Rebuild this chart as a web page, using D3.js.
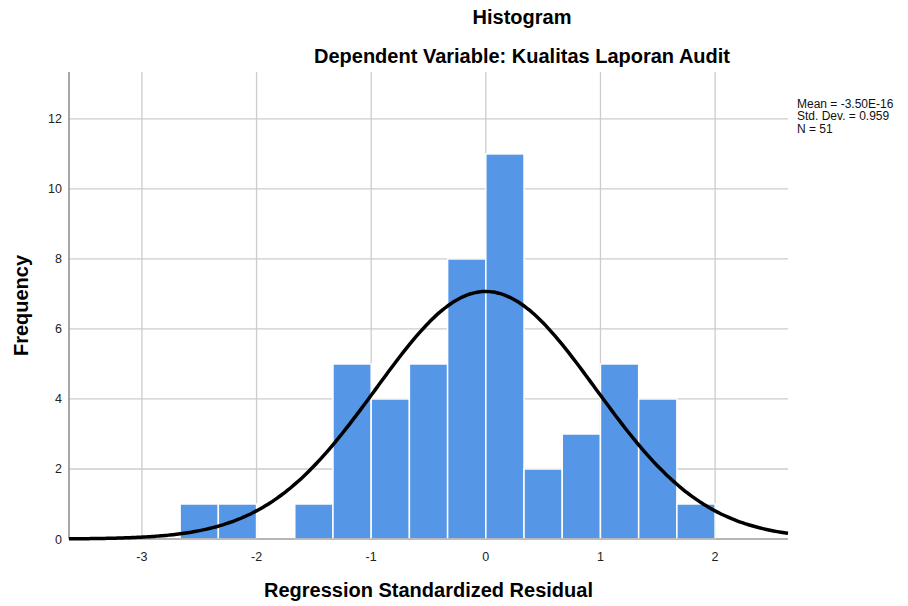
<!DOCTYPE html>
<html>
<head>
<meta charset="utf-8">
<script src="https://cdn.jsdelivr.net/npm/d3@7"></script>
<style>
body { margin: 0; background: #fff; font-family: "Liberation Sans", Arial, sans-serif; }
</style>
</head>
<body>
<div id="histogram"></div>
<script>
// bin edges (standardized residual), count per bin
var binStart = [-2.6667, -2.3333, -2, -1.6667, -1.3333, -1, -0.6667, -0.3333, 0, 0.3333, 0.6667, 1, 1.3333, 1.6667];
var binCount = [1, 1, 0, 1, 5, 4, 5, 8, 11, 2, 3, 5, 4, 1];
var binWidth = 1 / 3;
var xTicks = [-3, -2, -1, 0, 1, 2];
var yTicks = [0, 2, 4, 6, 8, 10, 12];
var stats = ["Mean = -3.50E-16", "Std. Dev. = 0.959", "N = 51"];
var mean = -3.50e-16, sd = 0.959, n = 51;

var W = 908, H = 606;
var margin = { top: 72, right: 120, bottom: 67, left: 69 },
    width = W - margin.left - margin.right,
    height = H - margin.top - margin.bottom;

var svg = d3.select("#histogram")
    .append("svg")
    .attr("width", W)
    .attr("height", H);

var g = svg.append("g")
    .attr("transform", "translate(" + margin.left + "," + margin.top + ")");

var x = d3.scaleLinear()
    .domain([-3.636, 2.636])
    .range([0, width]);
var y = d3.scaleLinear()
    .domain([0, 13.34])
    .range([height, 0]);

// grid
g.selectAll(".vgrid")
    .data(xTicks)
    .enter().append("line")
    .attr("x1", d => x(d)).attr("x2", d => x(d))
    .attr("y1", 0).attr("y2", height)
    .attr("stroke", "#cccccc").attr("stroke-width", 1.3);
g.selectAll(".hgrid")
    .data(yTicks)
    .enter().append("line")
    .attr("x1", 0).attr("x2", width)
    .attr("y1", d => y(d)).attr("y2", d => y(d))
    .attr("stroke", "#cccccc").attr("stroke-width", 1.3);

// bars
g.selectAll(".rects")
    .data(binStart)
    .enter().append("rect")
    .attr("class", "rects")
    .attr("x", d => x(d))
    .attr("y", (d, i) => y(binCount[i]))
    .attr("width", x(binWidth) - x(0))
    .attr("height", (d, i) => height - y(binCount[i]))
    .style("fill", "#5596e6")
    .style("stroke", (d, i) => binCount[i] > 0 ? "#ffffff" : "none")
    .style("stroke-width", 1.5);

// axis lines
g.append("line")
    .attr("x1", 0).attr("x2", 0).attr("y1", 0).attr("y2", height)
    .attr("stroke", "#888888").attr("stroke-width", 1.5);
g.append("line")
    .attr("x1", 0).attr("x2", width).attr("y1", height).attr("y2", height)
    .attr("stroke", "#aaaaaa").attr("stroke-width", 1.5);

// normal curve
var pts = d3.range(0, 201).map(function (i) {
    var v = x.domain()[0] + (x.domain()[1] - x.domain()[0]) * i / 200;
    var z = (v - mean) / sd;
    return [v, n * binWidth * Math.exp(-0.5 * z * z) / (sd * Math.sqrt(2 * Math.PI))];
});
g.append("path")
    .datum(pts)
    .attr("d", d3.line().x(d => x(d[0])).y(d => y(d[1])).curve(d3.curveBasis))
    .attr("fill", "none")
    .attr("stroke", "#000000")
    .attr("stroke-width", 3.5);

// tick labels
g.selectAll(".xlab")
    .data(xTicks)
    .enter().append("text")
    .attr("x", d => x(d)).attr("y", height + 22)
    .attr("text-anchor", "middle")
    .attr("font-size", 12.5).attr("fill", "#222")
    .text(d => d);
g.selectAll(".ylab")
    .data(yTicks)
    .enter().append("text")
    .attr("x", -7).attr("y", d => y(d) + 4.5)
    .attr("text-anchor", "end")
    .attr("font-size", 12.5).attr("fill", "#222")
    .text(d => d);

// titles
svg.append("text")
    .attr("x", 522).attr("y", 24)
    .attr("text-anchor", "middle")
    .attr("font-size", 20).attr("font-weight", "bold")
    .text("Histogram");
svg.append("text")
    .attr("x", 522).attr("y", 63)
    .attr("text-anchor", "middle")
    .attr("font-size", 20).attr("font-weight", "bold")
    .text("Dependent Variable: Kualitas Laporan Audit");
svg.append("text")
    .attr("x", margin.left + width / 2).attr("y", 597)
    .attr("text-anchor", "middle")
    .attr("font-size", 20).attr("font-weight", "bold")
    .text("Regression Standardized Residual");
svg.append("text")
    .attr("transform", "translate(28," + (margin.top + height / 2) + ") rotate(-90)")
    .attr("text-anchor", "middle")
    .attr("font-size", 20).attr("font-weight", "bold")
    .text("Frequency");

// stats legend
svg.selectAll(".stat")
    .data(stats)
    .enter().append("text")
    .attr("x", 797).attr("y", (d, i) => 108 + i * 12.3)
    .attr("font-size", 12).attr("fill", "#111")
    .text(d => d);
</script>
</body>
</html>
